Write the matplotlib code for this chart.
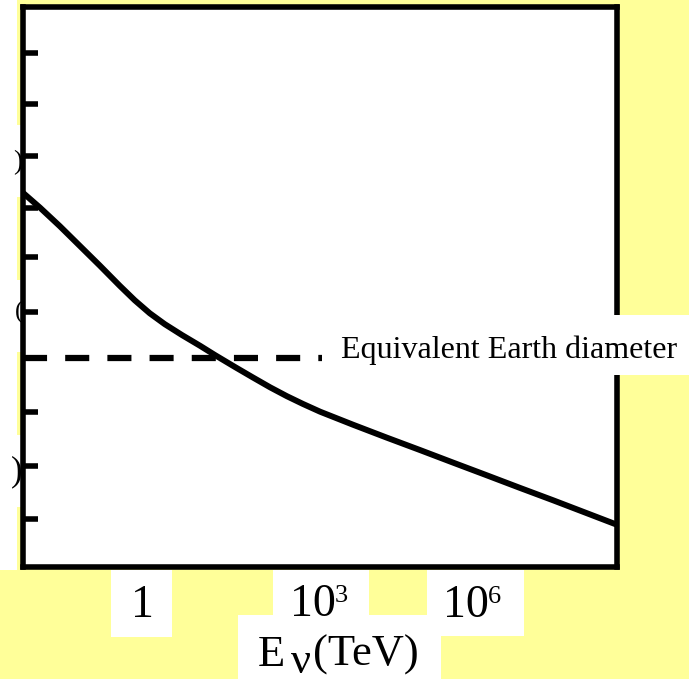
import numpy as np
import matplotlib
matplotlib.use("Agg")
from matplotlib import pyplot as plt
from matplotlib.patches import Rectangle

# curve: x = log10(E / TeV), y in left-tick units
log_e = [-2.14, -1.84, -1.48, -1.12, -0.76, -0.40, -0.13, 0.14, 0.41, 0.72,
         1.05, 1.32, 1.68, 2.00, 2.31, 2.61, 2.90, 3.21, 3.80, 4.41,
         5.01, 5.60, 6.22, 6.81, 7.41, 8.02, 8.58]
length = [7.29, 7.01, 6.65, 6.27, 5.89, 5.50, 5.22, 4.97, 4.76, 4.55,
          4.34, 4.16, 3.93, 3.73, 3.54, 3.37, 3.22, 3.07, 2.82, 2.57,
          2.33, 2.09, 1.84, 1.60, 1.36, 1.11, 0.88]

# equivalent Earth diameter level
earth_level = 4.11
earth_label = "Equivalent Earth diameter"

# left-axis ticks (no labels)
y_ticks = [1.0, 2.02, 3.07, 4.11, 5.0, 6.06, 7.0, 8.01, 9.0, 10.0]

# x tick labels: (text, superscript)
x_labels = [("1", ""), ("10", "3"), ("10", "6")]

W, H = 689, 679
yellow = "#ffff99"

plt.rcParams["font.family"] = ["Liberation Serif", "DejaVu Serif"]

fig = plt.figure(figsize=(W / 100, H / 100), dpi=100)
fig.patch.set_facecolor(yellow)


def fx(x):
    return x / W


def fy(y):
    return 1 - y / H


def white_box(x0, y0, x1, y1, z):
    fig.add_artist(Rectangle((fx(x0), fy(y1)), (x1 - x0) / W, (y1 - y0) / H,
                             transform=fig.transFigure, facecolor="white",
                             edgecolor="none", zorder=z))


# axes box
ax = fig.add_axes([fx(22.5), fy(567), (617 - 22.5) / W, (567 - 7) / H])
ax.set_facecolor("white")
for s in ax.spines.values():
    s.set_linewidth(4)
    s.set_color("black")

ax.plot(log_e, length, color="black", lw=4.3, solid_joinstyle="round")
ax.axhline(earth_level, color="black", lw=4.5, linestyle=(0, (3.85, 2.9)))

ax.set_xlim(-2.153, 8.56)
ax.set_ylim(0.073, 10.88)
ax.set_xticks([])
ax.set_yticks(y_ticks)
ax.tick_params(axis="y", direction="in", length=10.5, width=4,
               labelleft=False, color="black")

# white background pieces around the frame
white_box(0, 0, 17, 570, -2)
for a, b in [(125, 197), (280, 352), (435, 507)]:
    white_box(16, a, 21, b, -2)

# clipped remnants of the vertical axis title at the left edge
for ch, x, y, fs in [(")", 13, 163, 20), ("(", 15, 312, 18), (")", 11, 472, 25)]:
    fig.text(fx(x), fy(y), ch, fontsize=fs, va="center", ha="left", zorder=-1)

# label boxes under the axis
white_box(111, 570, 172, 637, 2)
white_box(273, 570, 369, 615, 2)
white_box(427, 570, 524, 636, 2)
white_box(238, 615, 441, 679, 2)

# text box for the reference level (covers the right spine)
white_box(322, 315, 689, 375, 5)
fig.text(fx(341), fy(358), earth_label, fontsize=23, va="baseline",
         ha="left", zorder=6)

# x tick labels
lab_pos = [(142, 617), (290, 616), (443, 617)]
for (txt, sup), (x, y) in zip(x_labels, lab_pos):
    if sup:
        fig.text(fx(x), fy(y), txt, fontsize=33, va="baseline", ha="left", zorder=3)
        fig.text(fx(x + 45), fy(y - 14), sup, fontsize=19, va="baseline",
                 ha="left", zorder=3)
    else:
        fig.text(fx(x), fy(y), txt, fontsize=33, va="baseline", ha="center", zorder=3)

# axis label E_nu (TeV)
fig.text(fx(258), fy(666), "E", fontsize=32, va="baseline", ha="left", zorder=3)
fig.text(fx(291), fy(673), "ν", fontsize=32, va="baseline", ha="left", zorder=3)
fig.text(fx(313), fy(666), "(TeV)", fontsize=32, va="baseline", ha="left", zorder=3)

fig.savefig("out.png", dpi=100, facecolor=yellow)
